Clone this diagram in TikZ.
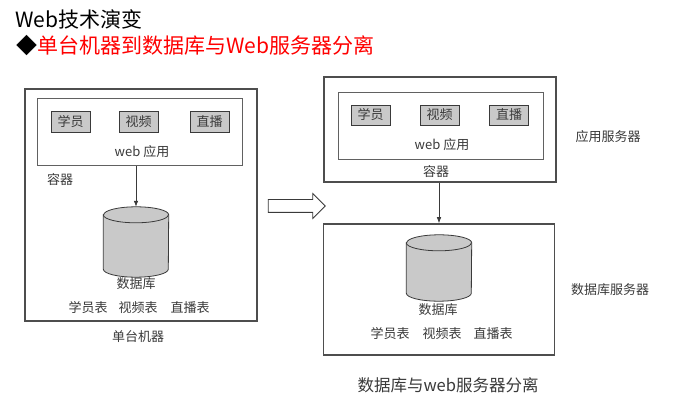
\documentclass[tikz,border=0pt]{standalone}
\usepackage{fontspec}
\setmainfont{Noto Sans CJK SC}
\usetikzlibrary{math}
\usetikzlibrary{shapes.arrows}
\usetikzlibrary{arrows.meta}
\definecolor{ink}{HTML}{3A3A3A}
\definecolor{dbgray}{HTML}{C9C9C9}

\begin{document}
\begin{tikzpicture}[x=1pt,y=-1pt,
	lbl/.style={text=ink,font=\fontsize{13}{15}\selectfont,inner sep=0pt},
	hostbox/.style={draw=ink!90,line width=1.5pt,minimum width=#1},
	appbox/.style={draw=ink!80,line width=0.8pt,minimum width=205,minimum height=67},
	btn/.style={lbl,draw=ink,line width=0.8pt,fill=dbgray,minimum width=39,minimum height=21},
	db/.style={minimum width=65,minimum height=#1,inner sep=0pt},
	dbshape/.style={draw=ink,line width=0.8pt,fill=dbgray},
	link/.style={-{Latex[length=6pt,width=4.5pt]},draw=ink,line width=0.7pt}]
	\tikzmath{\lx=141; \rx=439; \ly=205; \ry=8;}
	\useasboundingbox[fill=white] (0,0) rectangle (699,414);
	\node[anchor=west,font=\fontsize{21}{24}\selectfont] (title) at (12,19) {Web技术演变};
	\node[anchor=west,font=\fontsize{21}{24}\selectfont] (subtitle) at (13,46) {◆\textcolor{red}{单台机器到数据库与Web服务器分离}};

	\node[hostbox=232,minimum height=232] (hostL) at (\lx,\ly) {};
	\node[appbox] (appL) at (140,132) {};
	\node[btn] (stuL) at (70.5,121.5) {学员};
	\node[btn] (vidL) at (138.5,121.5) {视频};
	\node[btn] (livL) at (209.5,121.5) {直播};
	\node[lbl] (webL) at (142,152) {web 应用};
	\node[lbl] (ctrL) at (60,180) {容器};
	\node[db=70] (dbL) at (136,242) {};
	\node[lbl] (dbnL) at (136,284) {数据库};
	\node[lbl] (tstuL) at (88,308) {学员表};
	\node[lbl] (tvidL) at (138,308) {视频表};
	\node[lbl] (tlivL) at (190,308) {直播表};
	\node[lbl] (capL) at (138,337) {单台机器};
	\draw[link] (dbL |- appL.south) -- (dbL);

	\node[single arrow,draw=ink,line width=0.8pt,inner sep=6pt,minimum height=57,single arrow head extend=6pt] (shift) at (293.5,206) {};

	\node[hostbox=232,minimum height=105] (appSrv) at (440,129.5) {};
	\node[appbox] (appR) at (440.5,125.5) {};
	\node[btn,minimum height=20] (stuR) at (370.5,115) {学员};
	\node[btn,minimum height=20] (vidR) at (439.5,115) {视频};
	\node[btn,minimum height=20] (livR) at (509,115) {直播};
	\node[lbl] (webR) at (442,145) {web 应用};
	\node[lbl] (ctrR) at (436,172) {容器};
	\node[lbl] (appSrvL) at (608,137) {应用服务器};

	\node[hostbox=231,minimum height=131] (dbSrv) at (\rx,289.5) {};
	\node[db=66] (dbR) at (\rx,268) {};
	\node[lbl] (dbnR) at (438,310) {数据库};
	\node[lbl] (tstuR) at (390,334) {学员表};
	\node[lbl] (tvidR) at (442,334) {视频表};
	\node[lbl] (tlivR) at (493,334) {直播表};
	\node[lbl] (dbSrvL) at (610,290) {数据库服务器};
	\node[lbl,font=\fontsize{16.5}{19}\selectfont] (capR) at (448,385) {数据库与web服务器分离};
	\draw[link] (appSrv.south -| dbR) -- (dbSrv.north -| dbR);

	\foreach \d in {dbL,dbR} {
		\draw[dbshape] ([yshift=-\ry pt]\d.north west) -- ([yshift=\ry pt]\d.south west)
			arc[start angle=180,end angle=360,x radius=32.5pt,y radius=\ry pt]
			-- ([yshift=-\ry pt]\d.north east)
			arc[start angle=0,end angle=180,x radius=32.5pt,y radius=\ry pt] -- cycle;
		\draw[dbshape,fill=none] ([yshift=-\ry pt]\d.north west)
			arc[start angle=180,end angle=360,x radius=32.5pt,y radius=\ry pt];
	}
\end{tikzpicture}
\end{document}
